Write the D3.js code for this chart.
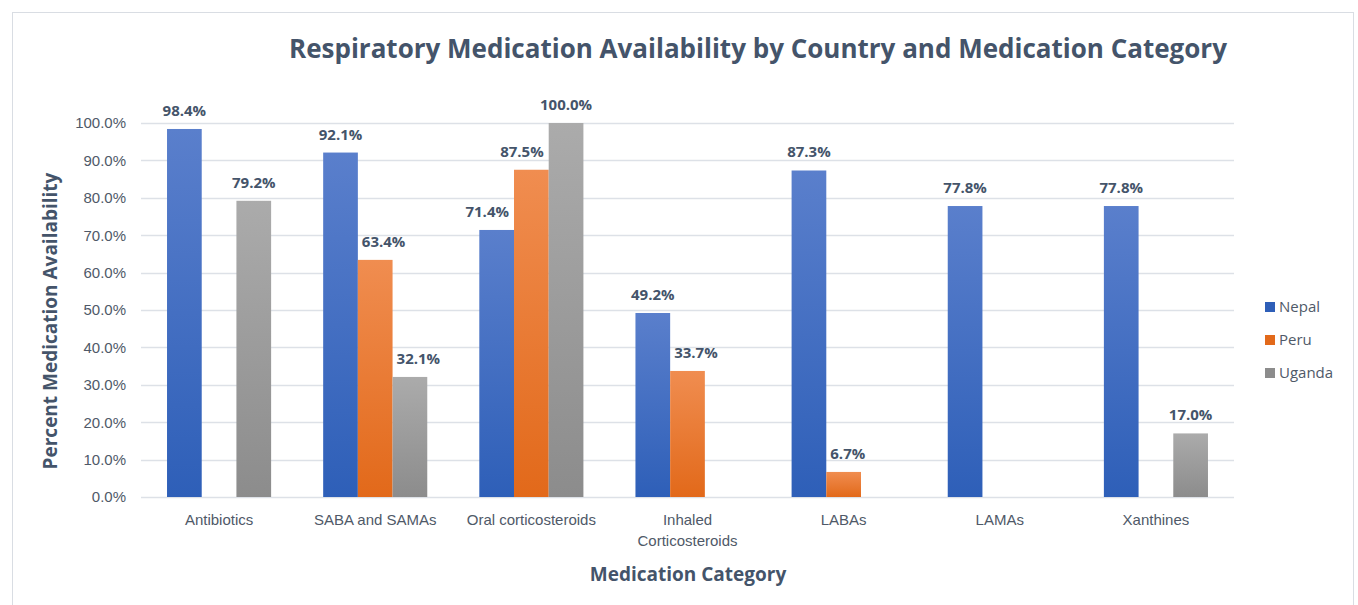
<!DOCTYPE html>
<html>
<head>
<meta charset="utf-8">
<script src="https://cdn.jsdelivr.net/npm/d3@7"></script>
<style>
  body { margin: 0; background: #fff; }
  svg { display: block; font-family: "Open Sans", Lato, sans-serif; }
</style>
</head>
<body>
<svg id="chart" width="1358" height="605"></svg>
<script>
var categories = ["Antibiotics", "SABA and SAMAs", "Oral corticosteroids", "Inhaled Corticosteroids", "LABAs", "LAMAs", "Xanthines"];
var seriesNames = ["Nepal", "Peru", "Uganda"];
var nepal = [98.4, 92.1, 71.4, 49.2, 87.3, 77.8, 77.8];
var peru = [null, 63.4, 87.5, 33.7, 6.7, null, null];
var uganda = [79.2, 32.1, 100.0, null, null, null, 17.0];
var yTicks = [0, 10, 20, 30, 40, 50, 60, 70, 80, 90, 100];

var colors = {
    Nepal: ["#5a7fcc", "#2e5fb8"],
    Peru: ["#f08d50", "#e2691a"],
    Uganda: ["#ababab", "#8c8c8c"]
};

var svg = d3.select("#chart");
var margin = {left: 141, right: 124, top: 123, bottom: 108};
var width = 1358, height = 605;

// outer frame
svg.append("rect")
    .attr("x", 12.5).attr("y", 12.5)
    .attr("width", 1341).attr("height", 600)
    .attr("fill", "#fff").attr("stroke", "#d9dde3");

var defs = svg.append("defs");
seriesNames.forEach(function(s) {
    var g = defs.append("linearGradient")
        .attr("id", "grad-" + s)
        .attr("x1", 0).attr("y1", 0).attr("x2", 0).attr("y2", 1);
    g.append("stop").attr("offset", "0%").attr("stop-color", colors[s][0]);
    g.append("stop").attr("offset", "100%").attr("stop-color", colors[s][1]);
});

var x = d3.scaleBand()
    .domain(categories)
    .range([margin.left, width - margin.right])
    .paddingInner(1 / 3)
    .paddingOuter(1 / 6);

var xSub = d3.scaleBand()
    .domain(seriesNames)
    .range([0, x.bandwidth()]);

var y = d3.scaleLinear()
    .domain([0, 100])
    .range([height - margin.bottom, margin.top]);

// gridlines
svg.append("g")
    .selectAll("line")
    .data(yTicks)
    .enter().append("line")
    .attr("x1", margin.left).attr("x2", width - margin.right)
    .attr("y1", function(d) { return Math.round(y(d)) + 0.5; })
    .attr("y2", function(d) { return Math.round(y(d)) + 0.5; })
    .attr("stroke", "#dde1e7").attr("stroke-width", 1.3);

// y axis
var yAxis = svg.append("g")
    .attr("transform", "translate(" + margin.left + ",0)")
    .call(d3.axisLeft(y).tickValues(yTicks).tickSize(0).tickPadding(15)
        .tickFormat(function(d) { return d.toFixed(1) + "%"; }));
yAxis.select(".domain").remove();
yAxis.selectAll("text")
    .attr("fill", "#4f5968").style("font-size", "15px");

// x axis
var xAxis = svg.append("g")
    .attr("transform", "translate(0," + (height - margin.bottom) + ")")
    .call(d3.axisBottom(x).tickSize(0).tickPadding(17));
xAxis.select(".domain").remove();
xAxis.selectAll("text")
    .attr("fill", "#4f5968").style("font-size", "15px")
    .each(function(d) {
        if (d === "Inhaled Corticosteroids") {
            var t = d3.select(this);
            t.text(null);
            t.append("tspan").attr("x", 0).attr("dy", "0.71em").text("Inhaled");
            t.append("tspan").attr("x", 0).attr("dy", "1.4em").text("Corticosteroids");
            t.attr("dy", null);
        }
    });

var allSeries = {Nepal: nepal, Peru: peru, Uganda: uganda};
var barData = [];
categories.forEach(function(c, i) {
    seriesNames.forEach(function(s, j) {
        var v = allSeries[s][i];
        if (v !== null) {
            // neighbours, used to keep labels off taller bars
            var left = j > 0 ? allSeries[seriesNames[j - 1]][i] : null;
            var right = j < 2 ? allSeries[seriesNames[j + 1]][i] : null;
            barData.push({cat: c, series: s, value: v, left: left, right: right});
        }
    });
});

var groups = svg.append("g");
groups.selectAll("rect")
    .data(barData)
    .enter().append("rect")
    .attr("x", function(d) { return x(d.cat) + xSub(d.series); })
    .attr("width", xSub.bandwidth())
    .attr("y", function(d) { return y(d.value); })
    .attr("height", function(d) { return y(0) - y(d.value); })
    .attr("fill", function(d) { return "url(#grad-" + d.series + ")"; });

groups.selectAll("text")
    .data(barData)
    .enter().append("text")
    .attr("x", function(d) { return x(d.cat) + xSub(d.series) + xSub.bandwidth() / 2; })
    .attr("y", function(d) { return y(d.value) - 13; })
    .attr("text-anchor", "middle")
    .attr("fill", "#44546a")
    .style("font-size", "15px").style("font-weight", "bold")
    .text(function(d) { return d.value.toFixed(1) + "%"; })
    .each(function(d) {
        var w = this.getComputedTextLength();
        var x0 = x(d.cat) + xSub(d.series);
        var x1 = x0 + xSub.bandwidth();
        var cx = (x0 + x1) / 2;
        if (d.left !== null && d.left > d.value) {
            cx = Math.max(cx, x0 + 4 + w / 2);
        } else if (d.right !== null && d.right > d.value) {
            cx = Math.min(cx, x1 - 5 - w / 2);
        }
        d3.select(this).attr("x", cx);
    });

// title
svg.append("text")
    .attr("x", 758).attr("y", 58)
    .attr("text-anchor", "middle")
    .attr("fill", "#44546a")
    .style("font-size", "26px").style("font-weight", "bold")
    .text("Respiratory Medication Availability by Country and Medication Category");

// axis titles
svg.append("text")
    .attr("transform", "translate(57,321) rotate(-90)")
    .attr("text-anchor", "middle")
    .attr("fill", "#44546a")
    .style("font-size", "19px").style("font-weight", "bold")
    .text("Percent Medication Availability");

svg.append("text")
    .attr("x", 688).attr("y", 581)
    .attr("text-anchor", "middle")
    .attr("fill", "#44546a")
    .style("font-size", "19px").style("font-weight", "bold")
    .text("Medication Category");

// legend
var legend = svg.append("g")
    .selectAll("g")
    .data(seriesNames)
    .enter().append("g")
    .attr("transform", function(d, i) { return "translate(1265," + (307 + i * 33) + ")"; });
legend.append("rect")
    .attr("x", 0).attr("y", -5).attr("width", 10).attr("height", 10)
    .attr("fill", function(d) { return colors[d][1]; });
legend.append("text")
    .attr("x", 14).attr("y", 5)
    .attr("fill", "#4f5968")
    .style("font-size", "15px")
    .text(function(d) { return d; });
</script>
</body>
</html>
